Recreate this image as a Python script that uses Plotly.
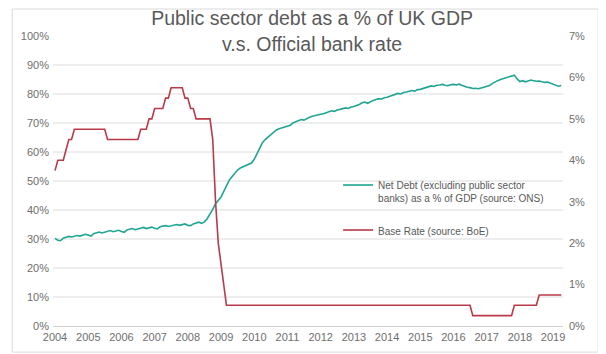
import plotly.graph_objects as go
import pandas as pd

# ---- Data (monthly, Jan 2004 - Apr 2019) ----
start_month = "2004-01-01"

net_debt_2004 = [30.2, 29.6, 29.4, 30.3, 30.6, 30.9, 30.7, 31.0, 31.2, 31.0, 31.3, 31.6]
net_debt_2005 = [31.4, 31.0, 31.8, 32.2, 32.4, 32.1, 32.3, 32.6, 32.9, 32.5, 32.7, 33.0]
net_debt_2006 = [32.6, 32.3, 33.1, 33.4, 33.6, 33.2, 33.4, 33.7, 34.0, 33.6, 33.8, 34.1]
net_debt_2007 = [33.7, 33.5, 34.2, 34.4, 34.6, 34.3, 34.5, 34.8, 35.0, 34.7, 34.9, 35.2]
net_debt_2008 = [34.7, 34.6, 35.2, 35.5, 35.8, 35.4, 35.9, 37.0, 38.5, 40.2, 42.2, 43.5]
net_debt_2009 = [44.5, 46.5, 48.5, 50.3, 51.5, 52.8, 53.8, 54.5, 55.0, 55.4, 55.8, 56.2]
net_debt_2010 = [57.5, 59.5, 61.7, 63.2, 64.3, 65.2, 66.0, 66.8, 67.6, 68.0, 68.3, 68.6]
net_debt_2011 = [68.8, 69.2, 70.0, 70.5, 70.8, 71.2, 71.0, 71.6, 72.0, 72.3, 72.6, 72.9]
net_debt_2012 = [73.0, 73.2, 73.6, 73.9, 74.2, 74.0, 74.5, 74.7, 75.0, 75.2, 75.0, 75.5]
net_debt_2013 = [75.7, 76.0, 76.4, 77.0, 77.2, 76.8, 77.4, 77.8, 78.1, 78.4, 78.2, 78.7]
net_debt_2014 = [78.9, 79.2, 79.6, 79.9, 80.2, 80.0, 80.5, 80.7, 80.9, 81.2, 81.0, 81.5]
net_debt_2015 = [81.6, 81.9, 82.2, 82.5, 82.8, 82.6, 83.0, 83.1, 83.3, 83.0, 82.9, 83.2]
net_debt_2016 = [83.3, 83.1, 83.4, 83.0, 82.6, 82.3, 82.2, 81.9, 82.0, 81.8, 82.1, 82.4]
net_debt_2017 = [82.6, 82.9, 83.6, 84.2, 84.6, 85.0, 85.3, 85.4, 85.8, 86.2, 86.5, 85.2]
net_debt_2018 = [84.3, 84.6, 84.2, 84.5, 84.8, 84.6, 84.4, 84.5, 84.2, 84.0, 84.1, 83.8]
net_debt_2019 = [83.5, 83.0, 82.7, 82.9]

base_rate_2004 = [3.75, 4.0, 4.0, 4.0, 4.25, 4.5, 4.5, 4.75, 4.75, 4.75, 4.75, 4.75]
base_rate_2005 = [4.75, 4.75, 4.75, 4.75, 4.75, 4.75, 4.75, 4.5, 4.5, 4.5, 4.5, 4.5]
base_rate_2006 = [4.5, 4.5, 4.5, 4.5, 4.5, 4.5, 4.5, 4.75, 4.75, 4.75, 5.0, 5.0]
base_rate_2007 = [5.25, 5.25, 5.25, 5.25, 5.5, 5.5, 5.75, 5.75, 5.75, 5.75, 5.75, 5.5]
base_rate_2008 = [5.5, 5.25, 5.25, 5.0, 5.0, 5.0, 5.0, 5.0, 5.0, 4.5, 3.0, 2.0]
base_rate_2009 = [1.5, 1.0, 0.5, 0.5, 0.5, 0.5, 0.5, 0.5, 0.5, 0.5, 0.5, 0.5]
base_rate_2010 = [0.5] * 12
base_rate_2011 = [0.5] * 12
base_rate_2012 = [0.5] * 12
base_rate_2013 = [0.5] * 12
base_rate_2014 = [0.5] * 12
base_rate_2015 = [0.5] * 12
base_rate_2016 = [0.5, 0.5, 0.5, 0.5, 0.5, 0.5, 0.5, 0.25, 0.25, 0.25, 0.25, 0.25]
base_rate_2017 = [0.25, 0.25, 0.25, 0.25, 0.25, 0.25, 0.25, 0.25, 0.25, 0.25, 0.5, 0.5]
base_rate_2018 = [0.5, 0.5, 0.5, 0.5, 0.5, 0.5, 0.5, 0.75, 0.75, 0.75, 0.75, 0.75]
base_rate_2019 = [0.75, 0.75, 0.75, 0.75]

left_ticks = [0, 10, 20, 30, 40, 50, 60, 70, 80, 90, 100]
right_ticks = [0, 1, 2, 3, 4, 5, 6, 7]
year_ticks = [str(y) for y in range(2004, 2020)]

net_debt = (net_debt_2004 + net_debt_2005 + net_debt_2006 + net_debt_2007 + net_debt_2008
            + net_debt_2009 + net_debt_2010 + net_debt_2011 + net_debt_2012 + net_debt_2013
            + net_debt_2014 + net_debt_2015 + net_debt_2016 + net_debt_2017 + net_debt_2018
            + net_debt_2019)
base_rate = (base_rate_2004 + base_rate_2005 + base_rate_2006 + base_rate_2007 + base_rate_2008
             + base_rate_2009 + base_rate_2010 + base_rate_2011 + base_rate_2012 + base_rate_2013
             + base_rate_2014 + base_rate_2015 + base_rate_2016 + base_rate_2017 + base_rate_2018
             + base_rate_2019)

dates_nd = pd.date_range(start_month, periods=len(net_debt), freq="MS")
dates_br = pd.date_range(start_month, periods=len(base_rate), freq="MS")

TEAL = "#1fa591"
RED = "#b83a48"
GRID = "#dcdcdc"
TXT = "#595959"
TICK = "#6e6e6e"
FONT = "Liberation Sans, Arial, sans-serif"

fig = go.Figure()
fig.add_trace(go.Scatter(
    x=dates_nd, y=net_debt, mode="lines",
    name="Net Debt (excluding public sector<br>banks) as a % of GDP (source: ONS)",
    line=dict(color=TEAL, width=1.6), legendgroup="a", yaxis="y"))
fig.add_trace(go.Scatter(
    x=dates_br, y=base_rate, mode="lines",
    name="Base Rate (source: BoE)",
    line=dict(color=RED, width=1.6), legendgroup="b", yaxis="y2"))

# horizontal gridlines (no line at 100%)
for v in left_ticks[1:-1]:
    fig.add_shape(type="line", xref="paper", x0=0, x1=1, yref="y", y0=v, y1=v,
                  line=dict(color=GRID, width=1), layer="below")

# chart frame
fig.add_shape(type="rect", xref="paper", yref="paper",
              x0=-0.080, x1=1.069, y0=-0.090, y1=1.093,
              line=dict(color="#d9d9d9", width=1), layer="below")

# page body adds an 8px offset, so the figure is sized to fit the window
fig.update_layout(
    width=598, height=346,
    margin=dict(l=45, r=43, t=28, b=28, autoexpand=False),
    paper_bgcolor="white", plot_bgcolor="white",
    font=dict(family=FONT, color=TXT, size=10),
    title=dict(text="Public sector debt as a % of UK GDP<br>v.s. Official bank rate",
               x=0.508, xref="paper", xanchor="center",
               y=0.95, yref="container", yanchor="middle",
               font=dict(size=19.5, color=TXT, family=FONT)),
    showlegend=True,
    legend=dict(x=0.559, y=0.531, xanchor="left", yanchor="top",
                bgcolor="rgba(0,0,0,0)", font=dict(size=10, color=TXT, family=FONT),
                traceorder="grouped", tracegroupgap=16, valign="top",
                itemwidth=30),
    xaxis=dict(type="date", range=["2003-12-10", "2019-04-20"],
               tickvals=[pd.Timestamp(y + "-01-01") for y in year_ticks],
               ticktext=year_ticks, showgrid=False, zeroline=False,
               showline=True, linecolor="#d0d0d0", linewidth=1,
               ticks="", automargin=False, ticklabelstandoff=1,
               tickfont=dict(size=11, color=TICK)),
    yaxis=dict(range=[0, 100], tickvals=left_ticks,
               ticktext=[f"{v}%" for v in left_ticks],
               showgrid=False, zeroline=False, showline=False, automargin=False,
               ticklabelstandoff=3,
               tickfont=dict(size=11, color=TICK)),
    yaxis2=dict(range=[0, 7], tickvals=right_ticks,
                ticktext=[f"{v}%" for v in right_ticks],
                overlaying="y", side="right", automargin=False,
                ticklabelstandoff=5,
                showgrid=False, zeroline=False, showline=False,
                tickfont=dict(size=11, color=TICK)),
)

fig.write_html("out.html")
